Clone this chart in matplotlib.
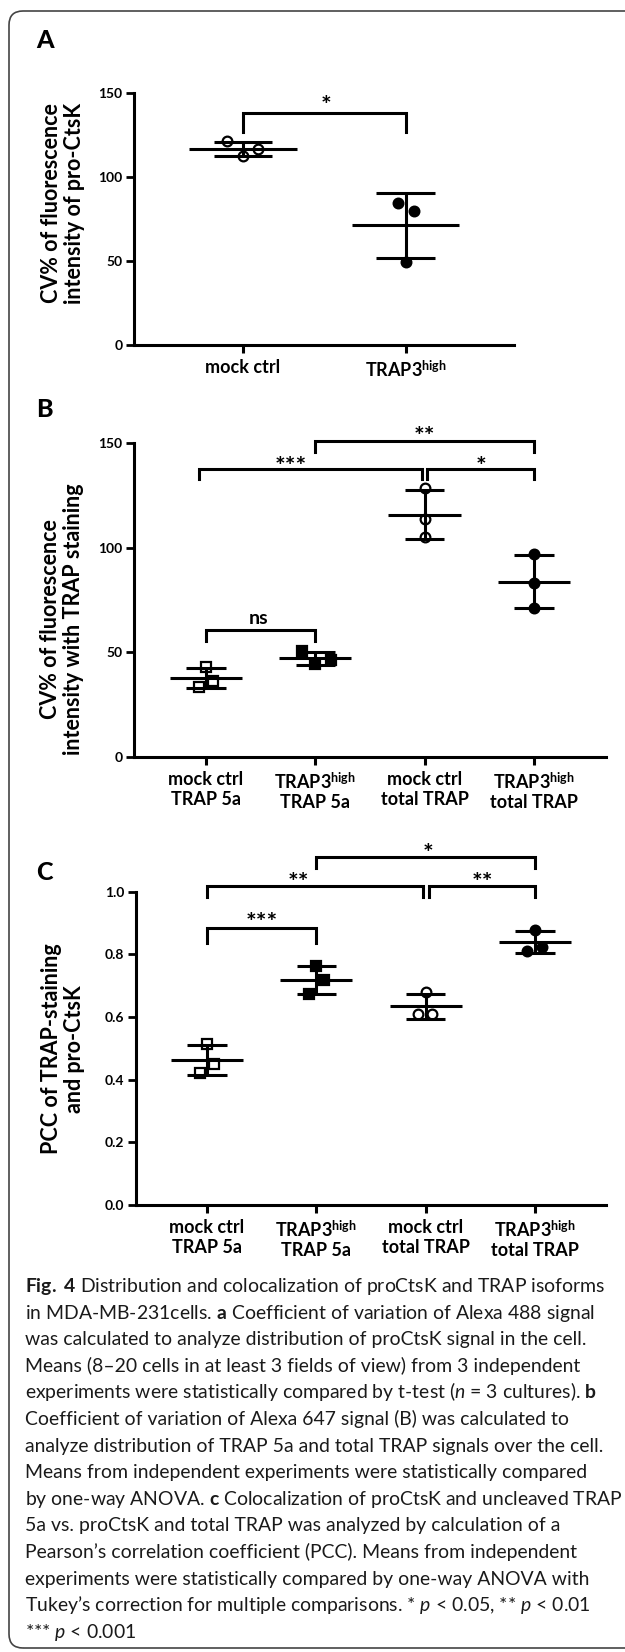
import numpy as np
import matplotlib.pyplot as plt
from matplotlib.patches import FancyBboxPatch
from matplotlib.transforms import IdentityTransform

plt.rcParams['font.family'] = ['Lato', 'DejaVu Sans']
plt.rcParams['mathtext.fontset'] = 'custom'
plt.rcParams['mathtext.rm'] = 'Lato'
plt.rcParams['mathtext.it'] = 'Lato:italic'
plt.rcParams['mathtext.bf'] = 'Lato:bold'

HIGH = r'TRAP3$^{\mathregular{high}}$'

# ---- data ----
# panel A: CV% of pro-CtsK signal
a_labels = ['mock ctrl', HIGH]
a_mock = [121.0, 112.5, 116.7]
a_trap = [84.7, 79.8, 49.2]
a_sig = [(0, 1, '*')]

# panel B: CV% with TRAP staining
b_labels = ['mock ctrl\nTRAP 5a', HIGH + '\nTRAP 5a',
            'mock ctrl\ntotal TRAP', HIGH + '\ntotal TRAP']
b_mock_5a = [42.9, 36.4, 33.7]
b_trap_5a = [50.7, 44.3, 46.4]
b_mock_tot = [128.3, 113.5, 105.2]
b_trap_tot = [96.8, 83.3, 71.3]
b_sig = [(0, 1, 'ns'), (0, 2, '***'), (2, 3, '*'), (1, 3, '**')]

# panel C: PCC
c_labels = b_labels
c_mock_5a = [0.514, 0.450, 0.422]
c_trap_5a = [0.763, 0.718, 0.672]
c_mock_tot = [0.681, 0.610, 0.610]
c_trap_tot = [0.878, 0.812, 0.824]
c_sig = [(0, 1, '***'), (0, 2, '**'), (2, 3, '**'), (1, 3, '*')]

caption = [
    r'$\mathbf{Fig.\ 4}$ Distribution and colocalization of proCtsK and TRAP isoforms',
    r'in MDA-MB-231cells. $\mathbf{a}$ Coefficient of variation of Alexa 488 signal',
    'was calculated to analyze distribution of proCtsK signal in the cell.',
    'Means (8–20 cells in at least 3 fields of view) from 3 independent',
    r'experiments were statistically compared by t-test ($\mathit{n}$ = 3 cultures). $\mathbf{b}$',
    'Coefficient of variation of Alexa 647 signal (B) was calculated to',
    'analyze distribution of TRAP 5a and total TRAP signals over the cell.',
    'Means from independent experiments were statistically compared',
    r'by one-way ANOVA. $\mathbf{c}$ Colocalization of proCtsK and uncleaved TRAP',
    '5a vs. proCtsK and total TRAP was analyzed by calculation of a',
    'Pearson’s correlation coefficient (PCC). Means from independent',
    'experiments were statistically compared by one-way ANOVA with',
    r'Tukey’s correction for multiple comparisons. * $\mathit{p}$ < 0.05, ** $\mathit{p}$ < 0.01',
    r'*** $\mathit{p}$ < 0.001',
]

# ---- layout ----
W, H = 625, 1652
open_c = ('o', False)
fill_c = ('o', True)
open_s = ('s', False)
fill_s = ('s', True)


def fy(px):
    return 1 - px / H


def dot_panel(ax, groups, styles, jitter):
    for i, (vals, (mk, filled), jit) in enumerate(zip(groups, styles, jitter)):
        vals = np.array(vals)
        m = vals.mean()
        sd = vals.std(ddof=1)
        ax.plot(i + np.array(jit), vals, ls='none', marker=mk, ms=7, mew=1.6,
                mec='black', mfc='black' if filled else 'white', zorder=3,
                clip_on=False)
        kw = dict(color='black', lw=2.2, zorder=4, solid_capstyle='butt', clip_on=False)
        ax.plot([i - 0.33, i + 0.33], [m, m], **kw)
        ax.plot([i, i], [m - sd, m + sd], **kw)
        ax.plot([i - 0.18, i + 0.18], [m + sd, m + sd], **kw)
        ax.plot([i - 0.18, i + 0.18], [m - sd, m - sd], **kw)


def brackets(ax, sig, pos):
    for (i, j, lab), (x0, x1, yt, yl, tx, ty) in zip(sig, pos):
        ax.plot([x0, x0, x1, x1], [yl, yt, yt, yl], color='black', lw=2.2,
                clip_on=False, solid_joinstyle='miter')
        if lab == 'ns':
            off, fs = -3.8, 14
        else:
            off, fs = -10, 18
        ax.annotate(lab, xy=(tx, ty), xytext=(0, off), textcoords='offset points',
                    ha='center', va='baseline', fontsize=fs, fontweight='bold',
                    annotation_clip=False)


def style_axes(ax, ylim, yticks, yfmt, xlim, labels):
    ax.set_xlim(*xlim)
    ax.set_ylim(*ylim)
    for s in ['top', 'right']:
        ax.spines[s].set_visible(False)
    for s in ['left', 'bottom']:
        ax.spines[s].set_linewidth(2.2)
    ax.set_yticks(yticks)
    ax.set_yticklabels([yfmt.format(v) for v in yticks], fontsize=10, fontweight='bold')
    ax.set_xticks(range(len(labels)))
    ax.set_xticklabels(labels, fontsize=13, fontweight='bold')
    ax.tick_params(axis='y', length=6, width=2, pad=2)
    ax.tick_params(axis='x', length=6, width=2.2, pad=4)


fig = plt.figure(figsize=(W / 100, H / 100), dpi=100)

# A
axA = fig.add_axes([133.5 / W, fy(345), (514 - 133.5) / W, (345 - 92.7) / H])
dot_panel(axA, [a_mock, a_trap], [open_c, fill_c],
          [[-0.1, 0, 0.09], [-0.05, 0.05, 0]])
style_axes(axA, (0, 150), [0, 50, 100, 150], '{:.0f}', (-0.673, 1.666), a_labels)
brackets(axA, a_sig, [(0, 1, 138, 126.8, 0.51, 145.8)])

# B
axB = fig.add_axes([133.5 / W, fy(757.3), (606 - 133.5) / W, (757.3 - 442.7) / H])
dot_panel(axB, [b_mock_5a, b_trap_5a, b_mock_tot, b_trap_tot],
          [open_s, fill_s, open_c, fill_c],
          [[0, 0.065, -0.065], [-0.12, 0, 0.14], [0, 0, 0], [0, 0, 0]])
style_axes(axB, (0, 150), [0, 50, 100, 150], '{:.0f}', (-0.663, 3.66), b_labels)
brackets(axB, b_sig, [(0, 1, 60.7, 55.6, 0.485, 66),
                      (-0.06, 1.98, 137.4, 132.6, 0.78, 141),
                      (2.02, 3.0, 137.4, 132.6, 2.52, 141),
                      (1.0, 3.0, 150.8, 145.7, 2.0, 155.3)])

# C
axC = fig.add_axes([135.5 / W, fy(1205), (606 - 135.5) / W, (1205 - 891.7) / H])
dot_panel(axC, [c_mock_5a, c_trap_5a, c_mock_tot, c_trap_tot],
          [open_s, fill_s, open_c, fill_c],
          [[0, 0.065, -0.06], [0, 0.07, -0.065], [0, -0.07, 0.06], [0, -0.07, 0.065]])
style_axes(axC, (0, 1.0), [0, 0.2, 0.4, 0.6, 0.8, 1.0], '{:.1f}', (-0.654, 3.65), c_labels)
brackets(axC, c_sig, [(0, 1, 0.883, 0.837, 0.5, 0.92),
                      (0, 1.98, 1.018, 0.982, 0.84, 1.048),
                      (2.03, 3.0, 1.018, 0.982, 2.52, 1.048),
                      (1.0, 3.0, 1.11, 1.075, 2.02, 1.14)])

# y labels
ylab = dict(rotation=90, ha='center', va='center', fontsize=15.5,
            fontweight='bold', multialignment='center', linespacing=1.15)
fig.text(63 / W, fy(203), 'CV% of fluorescence\nintensity of pro-CtsK', **ylab)
fig.text(62 / W, fy(619), 'CV% of fluorescence\nintensity with TRAP staining', **ylab)
fig.text(63 / W, fy(1049), 'PCC of TRAP-staining\nand pro-CtsK', **ylab)

# panel letters
for lab, base in [('A', 48), ('B', 417), ('C', 880)]:
    fig.text(36 / W, fy(base), lab, fontsize=18, fontweight='black', va='baseline')

# caption
cap_texts = []
for k, line in enumerate(caption):
    t = fig.text(25 / W, fy(1287 + 26.6 * k + 5), line, fontsize=13,
                 fontweight='normal', va='baseline', ha='left', color='#1a1a1a')
    cap_texts.append(t)
fig.canvas.draw()
r = fig.canvas.get_renderer()
w0 = cap_texts[0].get_window_extent(r).width
scale = 579 / w0
for t in cap_texts:
    t.set_fontsize(13 * scale)

# rounded frame
frame = FancyBboxPatch((9, 4), 640, 1637, boxstyle='round,pad=0,rounding_size=14',
                       transform=IdentityTransform(), fill=False,
                       ec='#444444', lw=1.2)
fig.add_artist(frame)

fig.savefig('out.png', dpi=100)
